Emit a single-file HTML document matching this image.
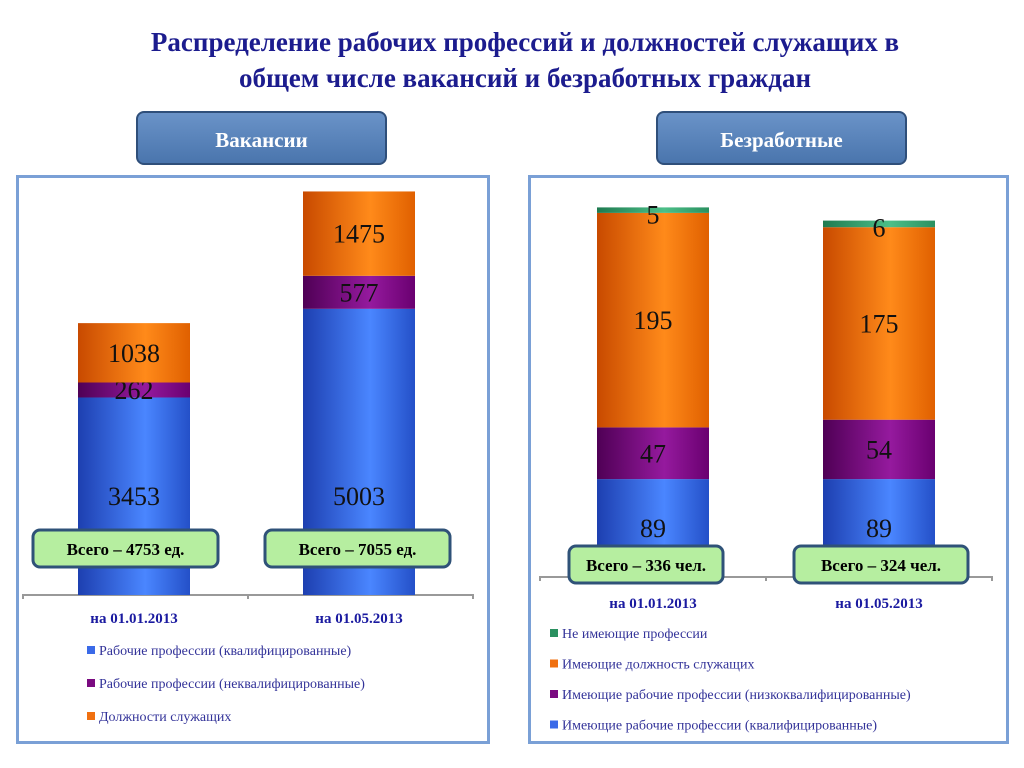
<!DOCTYPE html>
<html><head><meta charset="utf-8">
<style>
body{margin:0;width:1024px;height:768px;background:#fff;position:relative;overflow:hidden;font-family:"Liberation Serif",serif}
.t{position:absolute;left:0;width:1050px;text-align:center;color:#1c1c8e;font-weight:bold;font-size:27px;line-height:36px}
.hdr{position:absolute;height:54px;border-radius:8px;border:2px solid #2f4f7a;background:linear-gradient(#6a93c8,#4a75ad);color:#fff;font-weight:bold;font-size:21px;text-align:center;line-height:54px;box-sizing:border-box}
.panel{position:absolute;border:3px solid #7aa0d6;box-sizing:border-box;background:#fff}
svg{position:absolute;left:0;top:0}
</style></head><body>
<div class="t" style="top:24px">Распределение рабочих профессий и должностей служащих в<br>общем числе вакансий и безработных граждан</div>
<div class="panel" style="left:16px;top:175px;width:474px;height:569px"></div>
<div class="panel" style="left:528px;top:175px;width:481px;height:569px"></div>
<div class="hdr" style="left:136px;top:111px;width:251px">Вакансии</div>
<div class="hdr" style="left:656px;top:111px;width:251px">Безработные</div>
<svg id="s" width="1024" height="768" xmlns="http://www.w3.org/2000/svg">
<defs>
<linearGradient id="gb" x1="0" x2="1"><stop offset="0" stop-color="#1d3fb0"/><stop offset="0.6" stop-color="#4a86ff"/><stop offset="1" stop-color="#2450c8"/></linearGradient>
<linearGradient id="go" x1="0" x2="1"><stop offset="0" stop-color="#c84a00"/><stop offset="0.6" stop-color="#ff8a1a"/><stop offset="1" stop-color="#e06000"/></linearGradient>
<linearGradient id="gp" x1="0" x2="1"><stop offset="0" stop-color="#4f0055"/><stop offset="0.6" stop-color="#951a9e"/><stop offset="1" stop-color="#6a0070"/></linearGradient>
<linearGradient id="gg" x1="0" x2="1"><stop offset="0" stop-color="#1f7a50"/><stop offset="0.6" stop-color="#4cbf88"/><stop offset="1" stop-color="#2a9060"/></linearGradient>
</defs>
</svg>
<script>
const vacCategories=["на 01.01.2013","на 01.05.2013"];
const vacQualified=[3453,5003];
const vacUnqualified=[262,577];
const vacOffice=[1038,1475];
const vacTotals=["Всего – 4753 ед.","Всего – 7055 ед."];
const vacLegend=["Рабочие профессии (квалифицированные)","Рабочие профессии (неквалифицированные)","Должности служащих"];
const unCategories=["на 01.01.2013","на 01.05.2013"];
const unQualified=[89,89];
const unLow=[47,54];
const unOffice=[195,175];
const unNone=[5,6];
const unTotals=["Всего – 336 чел.","Всего – 324 чел."];
const unLegend=["Не имеющие профессии","Имеющие должность служащих","Имеющие рабочие профессии (низкоквалифицированные)","Имеющие рабочие профессии (квалифицированные)"];

const S=document.getElementById('s');const NS="http://www.w3.org/2000/svg";
function mk(t,a,txt){const e=document.createElementNS(NS,t);for(const k in a)e.setAttribute(k,a[k]);if(txt!==undefined)e.textContent=txt;S.appendChild(e);return e;}

function chart(cfg){
  const y=v=>cfg.base-v*cfg.scale;
  const line=mk('path',{d:`M${cfg.ax0} ${cfg.base+4}V${cfg.base}H${cfg.ax1}V${cfg.base+4}M${(cfg.ax0+cfg.ax1)/2} ${cfg.base}v4`,stroke:'#999',fill:'none','stroke-width':2});
  
  
  cfg.cats.forEach((c,i)=>{
    const x=cfg.bx[i];let acc=0;
    cfg.series.forEach((s,j)=>{
      const v=s.vals[i];const y1=y(acc+v),y0=y(acc);
      const r=mk('rect',{x:x,y:y1,width:cfg.bw,height:y0-y1,fill:s.fill});
      
      
      if(s.label){
        const ly=s.ly?s.ly(y1,y0):(y1+y0)/2+9;
        const t=mk('text',{x:x+cfg.bw/2,y:ly,'text-anchor':'middle','font-size':26,fill:'#111'},String(v));
        
        
      }
      acc+=v;
    });
    const tb=cfg.tb[i];
    const b=mk('rect',{x:tb[0],y:tb[1],width:tb[2],height:37,rx:7,fill:'#b6eea0',stroke:'#2f5278','stroke-width':3});
    
    
    const tt=mk('text',{x:tb[0]+tb[2]/2,y:tb[1]+25,'text-anchor':'middle','font-size':17,'font-weight':'bold',fill:'#000'},cfg.totals[i]);
    
    
    const cl=mk('text',{x:x+cfg.bw/2,y:cfg.cy,'text-anchor':'middle','font-size':15,'font-weight':'bold',fill:'#1a1aa0'},c);
    
    
  });
  cfg.legend.forEach((l,k)=>{
    const yy=cfg.ly0+k*cfg.ldy;
    const m=mk('rect',{x:cfg.lx,y:yy-9,width:8,height:8,fill:cfg.lcol[k]});
    
    
    const t=mk('text',{x:cfg.lx+12,y:yy,'font-size':14,fill:'#333399'},l);
    
    
  });
}
chart({prefix:'vac',base:595,scale:0.0572,bx:[78,303],bw:112,ax0:23,ax1:473,cats:vacCategories,totals:vacTotals,
  series:[{key:'qualified',vals:vacQualified,fill:'url(#gb)',label:1,ly:(a,b)=>505},
          {key:'unqualified',vals:vacUnqualified,fill:'url(#gp)',label:1},
          {key:'office',vals:vacOffice,fill:'url(#go)',label:1}],
  tb:[[33,530,185],[265,530,185]],cy:623,legend:vacLegend,lcol:['#3a6ae8','#7a0a80','#f07010'],lx:87,ly0:655,ldy:33});
chart({prefix:'un',base:577,scale:1.1,bx:[597,823],bw:112,ax0:540,ax1:992,cats:unCategories,totals:unTotals,
  series:[{key:'qualified',vals:unQualified,fill:'url(#gb)',label:1},
          {key:'low',vals:unLow,fill:'url(#gp)',label:1},
          {key:'office',vals:unOffice,fill:'url(#go)',label:1},
          {key:'none',vals:unNone,fill:'url(#gg)',label:1,ly:(a,b)=>a+16}],
  tb:[[569,546,154],[794,546,174]],cy:608,legend:unLegend,lcol:['#2a9060','#f07010','#7a0a80','#3a6ae8'],lx:550,ly0:638,ldy:30.5});
</script>
</body></html>
